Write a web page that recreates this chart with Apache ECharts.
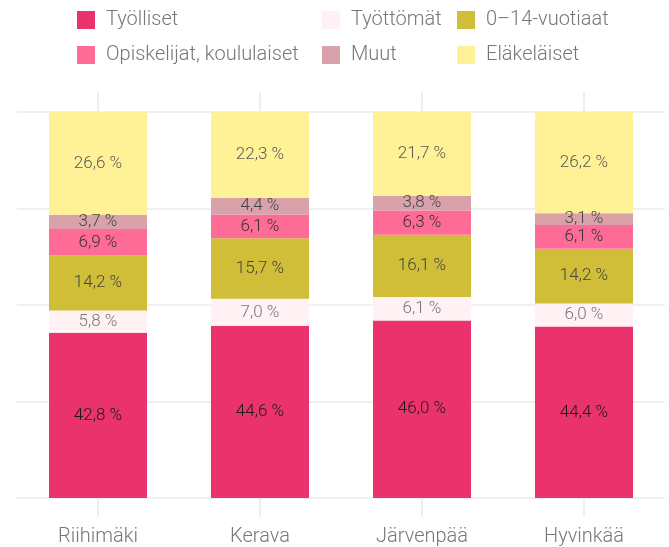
<!DOCTYPE html>
<html>
<head>
<meta charset="utf-8">
<script src="https://cdn.jsdelivr.net/npm/echarts@6/dist/echarts.min.js"></script>
<style>
  html, body { margin: 0; padding: 0; background: #fff; }
  #main { width: 669px; height: 547px; }
</style>
</head>
<body>
<div id="main"></div>
<script>
// kunnat
const cities = ['Riihimäki', 'Kerava', 'Järvenpää', 'Hyvinkää'];
// osuudet (%) alhaalta ylös
const tyolliset = [42.8, 44.6, 46.0, 44.4];
const tyottomat = [5.8, 7.0, 6.1, 6.0];
const lapset = [14.2, 15.7, 16.1, 14.2];
const opiskelijat = [6.9, 6.1, 6.3, 6.1];
const muut = [3.7, 4.4, 3.8, 3.1];
const elakelaiset = [26.6, 22.3, 21.7, 26.2];

const font = 'Roboto, "Noto Sans", sans-serif';

function fmt(p) {
  return p.value.toFixed(1).replace('.', ',') + ' %';
}

function bar(name, data, color, labelColor) {
  return {
    name: name,
    type: 'bar',
    stack: 'total',
    data: data,
    barWidth: 98,
    itemStyle: { color: color },
    label: {
      show: true,
      position: 'inside',
      formatter: fmt,
      color: labelColor,
      fontSize: 17,
      fontWeight: 300,
      fontFamily: font
    },
    emphasis: { disabled: true }
  };
}

const series = [
  bar('Työlliset', tyolliset, '#EA336C', '#1a1a1a'),
  bar('Työttömät', tyottomat, '#FFF1F4', '#777777'),
  bar('0–14-vuotiaat', lapset, '#D1BE38', '#444444'),
  bar('Opiskelijat, koululaiset', opiskelijat, '#FF6B97', '#333333'),
  bar('Muut', muut, '#D9A1AA', '#444444'),
  bar('Eläkeläiset', elakelaiset, '#FFF296', '#5a5a5a')
];

function legend(left, names) {
  return {
    orient: 'vertical',
    left: left,
    top: 10,
    data: names,
    icon: 'rect',
    itemWidth: 18,
    itemHeight: 18,
    itemGap: 15,
    padding: 0,
    selectedMode: false,
    textStyle: { color: '#777777', fontSize: 20, fontWeight: 300, fontFamily: font, padding: [2, 0, 0, 6] }
  };
}

const chart = echarts.init(document.getElementById('main'));
chart.setOption({
  animation: false,
  legend: [
    legend(77, ['Työlliset', 'Opiskelijat, koululaiset']),
    legend(322, ['Työttömät', 'Muut']),
    legend(457, ['0–14-vuotiaat', 'Eläkeläiset'])
  ],
  grid: { left: 17, right: 4, top: 112, bottom: 49 },
  xAxis: [{
    type: 'category',
    data: cities,
    axisLine: { show: false },
    axisTick: { show: true, alignWithLabel: true, length: 19, lineStyle: { color: '#eeeeee', width: 2 } },
    axisLabel: { color: '#777777', fontSize: 20, fontWeight: 300, fontFamily: font, margin: 29 }
  }, {
    type: 'category',
    data: cities,
    position: 'top',
    axisLine: { show: false },
    axisTick: { show: true, alignWithLabel: true, length: 20, lineStyle: { color: '#eeeeee', width: 2 } },
    axisLabel: { show: false }
  }],
  yAxis: {
    type: 'value',
    min: 0,
    max: 100,
    interval: 25,
    axisLabel: { show: false },
    axisLine: { show: false },
    axisTick: { show: false },
    splitLine: { lineStyle: { color: '#f0f0f0', width: 2 } }
  },
  series: series
});
</script>
</body>
</html>
